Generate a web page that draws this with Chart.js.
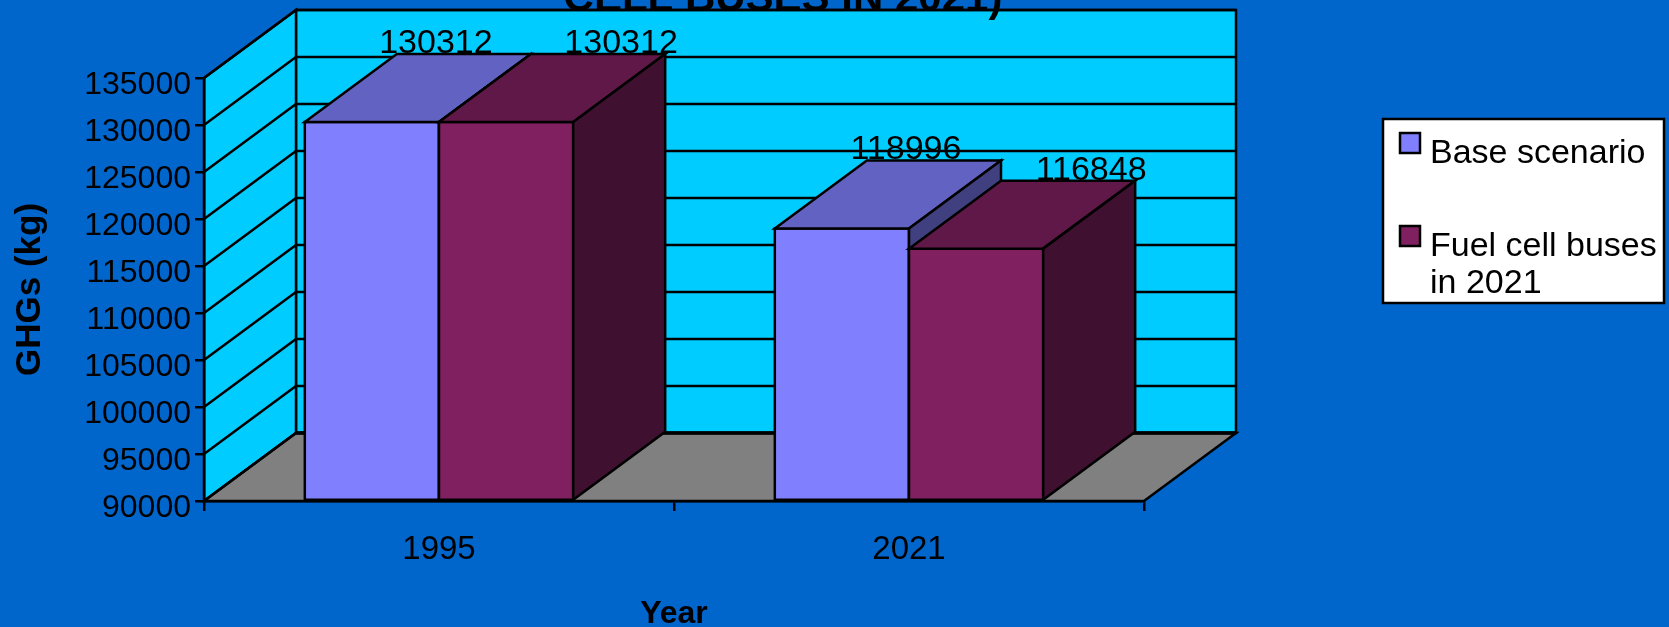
<!DOCTYPE html>
<html>
<head>
<meta charset="utf-8">
<script src="https://cdn.jsdelivr.net/npm/chart.js@4/dist/chart.umd.min.js"></script>
<style>
  html, body { margin: 0; padding: 0; background: #0066cc; }
  #wrap { position: relative; width: 1669px; height: 627px; }
</style>
</head>
<body>
<div id="wrap"><canvas id="ghgChart"></canvas></div>
<script>
// GHG totals per year, two scenarios
const years = ["1995", "2021"];
const baseScenario = [130312, 118996];
const fuelCellBuses = [130312, 116848];
const seriesNames = ["Base scenario", "Fuel cell buses in 2021"];

const yMin = 90000;
const yMax = 135000;
const yStep = 5000;

// box colours: front / top / side for each series
const faces = [
  { front: "#8080ff", top: "#6262c2", side: "#404080" },
  { front: "#802060", top: "#601848", side: "#401030" },
];
const WALL = "#00ccff";
const FLOOR = "#808080";
const BG = "#0066cc";

// 3d depth offset of the back plane
const DX = 92;
const DY = 68;
const LW = 2.5;
// value labels sit a little off the back edge of each box
const labelShift = [-28, 23];

Chart.defaults.font.family = "'Liberation Sans', Arial, sans-serif";
Chart.defaults.color = "#000";

function poly(ctx, pts, fill) {
  ctx.beginPath();
  ctx.moveTo(pts[0][0], pts[0][1]);
  for (let i = 1; i < pts.length; i++) ctx.lineTo(pts[i][0], pts[i][1]);
  ctx.closePath();
  ctx.fillStyle = fill;
  ctx.fill();
  ctx.stroke();
}

const box3d = {
  id: "box3d",
  beforeDraw(chart) {
    const { ctx, chartArea: a } = chart;
    const y = chart.scales.y;
    ctx.save();
    ctx.fillStyle = BG;
    ctx.fillRect(0, 0, chart.width, chart.height);
    ctx.strokeStyle = "#000";
    ctx.lineWidth = LW;

    // back wall, left wall, floor
    poly(ctx, [[a.left + DX, a.top - DY], [a.right + DX, a.top - DY], [a.right + DX, a.bottom - DY], [a.left + DX, a.bottom - DY]], WALL);
    poly(ctx, [[a.left, a.top], [a.left + DX, a.top - DY], [a.left + DX, a.bottom - DY], [a.left, a.bottom]], WALL);
    poly(ctx, [[a.left, a.bottom], [a.left + DX, a.bottom - DY], [a.right + DX, a.bottom - DY], [a.right, a.bottom]], FLOOR);

    // gridlines run along the left wall and across the back wall
    y.ticks.forEach((t) => {
      const py = y.getPixelForValue(t.value);
      ctx.beginPath();
      ctx.moveTo(a.left, py);
      ctx.lineTo(a.left + DX, py - DY);
      ctx.lineTo(a.right + DX, py - DY);
      ctx.stroke();
    });
    ctx.lineWidth = 3.5;
    ctx.beginPath();
    ctx.moveTo(a.left + DX, a.bottom - DY);
    ctx.lineTo(a.right + DX, a.bottom - DY);
    ctx.stroke();
    ctx.restore();
  },
  afterDatasetsDraw(chart) {
    const ctx = chart.ctx;
    ctx.save();
    ctx.strokeStyle = "#000";
    ctx.lineWidth = LW;
    ctx.lineJoin = "miter";
    const metas = chart.data.datasets.map((ds, i) => chart.getDatasetMeta(i));

    // draw boxes left to right so nearer faces overlap correctly
    years.forEach((yr, j) => {
      metas.forEach((meta, i) => {
        const bar = meta.data[j];
        const { x, y, base, width } = bar.getProps(["x", "y", "base", "width"], true);
        const l = x - width / 2;
        const r = x + width / 2;
        const f = faces[i];
        poly(ctx, [[l, y], [r, y], [r, base], [l, base]], f.front);
        poly(ctx, [[l, y], [r, y], [r + DX, y - DY], [l + DX, y - DY]], f.top);
        poly(ctx, [[r, y], [r + DX, y - DY], [r + DX, base - DY], [r, base]], f.side);
      });
    });

    // value labels
    ctx.fillStyle = "#000";
    ctx.font = "34px 'Liberation Sans', Arial, sans-serif";
    ctx.textAlign = "center";
    ctx.textBaseline = "alphabetic";
    metas.forEach((meta, i) => {
      const data = chart.data.datasets[i].data;
      meta.data.forEach((bar, j) => {
        ctx.fillText(String(data[j]), bar.x + DX + labelShift[i], bar.y - DY - 1);
      });
    });
    ctx.restore();
  },
  afterDraw(chart) {
    const ctx = chart.ctx;
    ctx.save();

    // chart title (only its last line fits on the slide)
    ctx.fillStyle = "#000";
    ctx.font = "bold 42px 'Liberation Sans', Arial, sans-serif";
    ctx.textAlign = "center";
    ctx.textBaseline = "alphabetic";
    ctx.fillText("CELL BUSES IN 2021)", 783, 11);

    // legend box
    const lx = 1383, ly = 119, lw = 281, lh = 184;
    ctx.fillStyle = "#fff";
    ctx.strokeStyle = "#000";
    ctx.lineWidth = LW;
    ctx.fillRect(lx, ly, lw, lh);
    ctx.strokeRect(lx, ly, lw, lh);

    ctx.font = "34px 'Liberation Sans', Arial, sans-serif";
    ctx.textAlign = "left";
    const textX = 1430;
    const maxW = lx + lw - textX - 3;
    const itemTops = [133, 226];
    chart.data.datasets.forEach((ds, i) => {
      const top = itemTops[i];
      ctx.fillStyle = faces[i].front;
      ctx.fillRect(1400, top, 20, 20);
      ctx.strokeRect(1400, top, 20, 20);

      // wrap the series name inside the box
      const lines = [];
      let cur = "";
      ds.label.split(" ").forEach((w) => {
        const test = cur ? cur + " " + w : w;
        if (ctx.measureText(test).width > maxW && cur) {
          lines.push(cur);
          cur = w;
        } else {
          cur = test;
        }
      });
      lines.push(cur);
      ctx.fillStyle = "#000";
      lines.forEach((ln, k) => ctx.fillText(ln, textX, top + 30 + k * 37));
    });
    ctx.restore();
  },
};

new Chart(document.getElementById("ghgChart"), {
  type: "bar",
  data: {
    labels: years,
    datasets: [
      { label: seriesNames[0], data: baseScenario, base: yMin, backgroundColor: faces[0].front, borderWidth: 0 },
      { label: seriesNames[1], data: fuelCellBuses, base: yMin, backgroundColor: faces[1].front, borderWidth: 0 },
    ],
  },
  options: {
    responsive: true,
    maintainAspectRatio: false,
    animation: false,
    events: [],
    categoryPercentage: 0.571,
    barPercentage: 1.0,
    layout: { padding: { top: 78, right: 525, bottom: 0, left: 0 } },
    plugins: {
      legend: { display: false },
      tooltip: { enabled: false },
    },
    scales: {
      x: {
        grid: { offset: true, drawOnChartArea: false, drawTicks: true, tickLength: 10, color: "#000", lineWidth: LW },
        border: { display: true, color: "#000", width: LW },
        ticks: { padding: 19, maxRotation: 0, font: { size: 33 } },
        title: {
          display: true,
          text: "Year",
          font: { size: 32, weight: "bold", lineHeight: 0.8 },
          padding: 0,
        },
        afterFit(scale) {
          scale.height = 126;
        },
      },
      y: {
        min: yMin,
        max: yMax,
        ticks: { stepSize: yStep, padding: 4, labelOffset: 7, font: { size: 32 }, callback: (v) => String(v) },
        grid: { drawOnChartArea: false, tickLength: 9, color: "#000", lineWidth: LW },
        border: { display: true, color: "#000", width: LW },
        title: {
          display: true,
          text: "GHGs (kg)",
          font: { size: 35, weight: "bold" },
          padding: { top: 9, bottom: 0 },
        },
        afterFit(scale) {
          scale.width = 204;
        },
      },
    },
  },
  plugins: [box3d],
});
</script>
</body>
</html>
